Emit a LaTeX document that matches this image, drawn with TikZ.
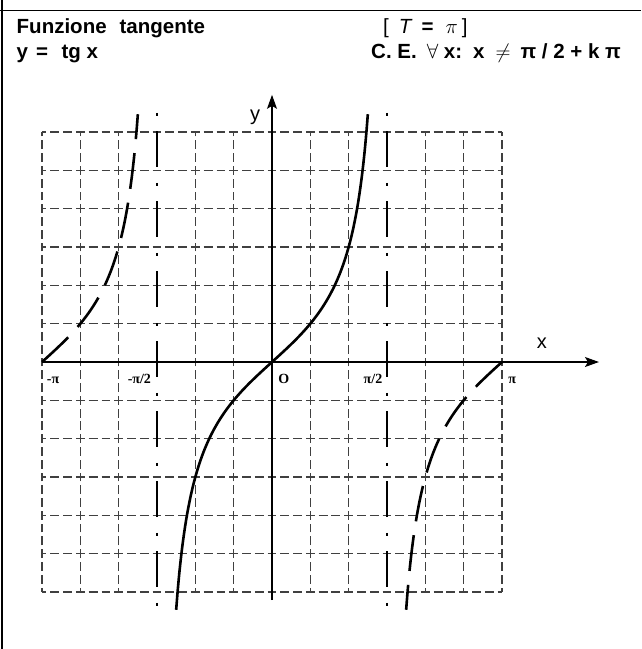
\documentclass[tikz,border=0pt]{standalone}
\usepackage{fontspec}
\setmainfont{Liberation Sans}
\newfontfamily\tnr{Liberation Serif}
\usetikzlibrary{arrows.meta}
\tikzset{
  frameline/.style={line width=1.4pt, black},
  gridseg/.style={line width=1.1pt, draw=black!75, dash pattern=on 8.8pt off 3.98pt, dash phase=4.4pt},
  axisline/.style={line width=1.2pt, -{Stealth[length=14pt,width=10pt,inset=3pt]}},
  asym/.style={line width=2.6pt, dash pattern=on 3.5pt off 15pt on 36pt off 15.5pt},
  curvesolid/.style={line width=2.6pt},
  curvedashed/.style={line width=2.6pt, dash pattern=on 36pt off 14pt},
  head/.style={font=\fontsize{20.5}{24}\selectfont\bfseries, anchor=base west, inner sep=0pt},
  headreg/.style={font=\fontsize{20.5}{24}\selectfont, anchor=base west, inner sep=0pt},
  axlabel/.style={font=\fontsize{20}{24}\selectfont, inner sep=0pt},
  ticklab/.style={font=\fontsize{14}{16}\selectfont\tnr\bfseries, anchor=base, inner sep=0pt},
}
\begin{document}
\begin{tikzpicture}[x=1pt,y=-1pt]
\useasboundingbox (0,0) rectangle (641,649);
% frame
\coordinate (fl1) at (0,10.5); \coordinate (fl2) at (641,10.5);
\coordinate (fv1) at (2,0); \coordinate (fv2) at (2,649);
\draw[frameline] (fl1) -- (fl2);
\draw[frameline] (fv1) -- (fv2);
% header
\node[head] (t1) at (16.5,33) {Funzione\hspace{13pt}tangente};
\node[head] (t2) at (16.5,58.5) {y\hspace{8pt}=\hspace{13.5pt}tg x};
\node[headreg] (t3) at (383,33) {[\hspace{10pt}\textit{T}\hspace{9pt}\textbf{=}\hspace{12pt}$\pi$\hspace{4pt}]};
\node[head] (t4) at (371,58.5) {C. E.\hspace{10pt}$\forall$ x:\hspace{11pt}x\hspace{11pt}$\neq$\hspace{10pt}π / 2 + k π};
\begin{scope}[shift={(272pt,-362pt)}, x=38.33pt, y=38.33pt]
  % grid
  \foreach \v in {-6,...,-1,1,2,...,6}{
    \foreach \u in {-6,...,5}{
      \draw[gridseg] (\u,\v) -- ({\u+1},\v);
    }
  }
  \foreach \u in {-6,-5,-4,-2,-1,1,2,4,5,6}{
    \foreach \v in {-6,...,5}{
      \draw[gridseg] (\u,\v) -- (\u,{\v+1});
    }
  }
  % axes
  \coordinate (xs) at (-6,0); \coordinate (xe) at (8.53,0);
  \coordinate (ys) at (0,-6.21); \coordinate (ye) at (0,6.97);
  \draw[axisline] (xs) -- (xe);
  \draw[axisline] (ys) -- (ye);
  % asymptotes
  \coordinate (a1t) at (-3,6.5); \coordinate (a1b) at (-3,-6.55);
  \coordinate (a2t) at (3,6.5); \coordinate (a2b) at (3,-6.55);
  \draw[asym] (a1t) -- (a1b);
  \draw[asym] (a2t) -- (a2b);
  % curves
  \draw[curvesolid] plot[domain=-75:75, samples=121, smooth] ({\x/30}, {sqrt(3)*tan(\x)});
  \draw[curvedashed] plot[domain=-180:-105, samples=80, smooth] ({\x/30}, {sqrt(3)*tan(\x)});
  \draw[curvedashed] plot[domain=180:105, samples=80, smooth] ({\x/30}, {sqrt(3)*tan(\x)});
  % labels
  \node[axlabel] (ylab) at (-0.44,6.38) {y};
  \node[axlabel] (xlab) at (7.04,0.5) {x};
  \node[ticklab] (l1) at (-5.71,-0.55) {-π};
  \node[ticklab] (l2) at (-3.46,-0.55) {-π/2};
  \node[ticklab] (l3) at (0.31,-0.55) {O};
  \node[ticklab] (l4) at (2.635,-0.55) {π/2};
  \node[ticklab] (l5) at (6.27,-0.55) {π};
\end{scope}
\end{tikzpicture}
\end{document}
